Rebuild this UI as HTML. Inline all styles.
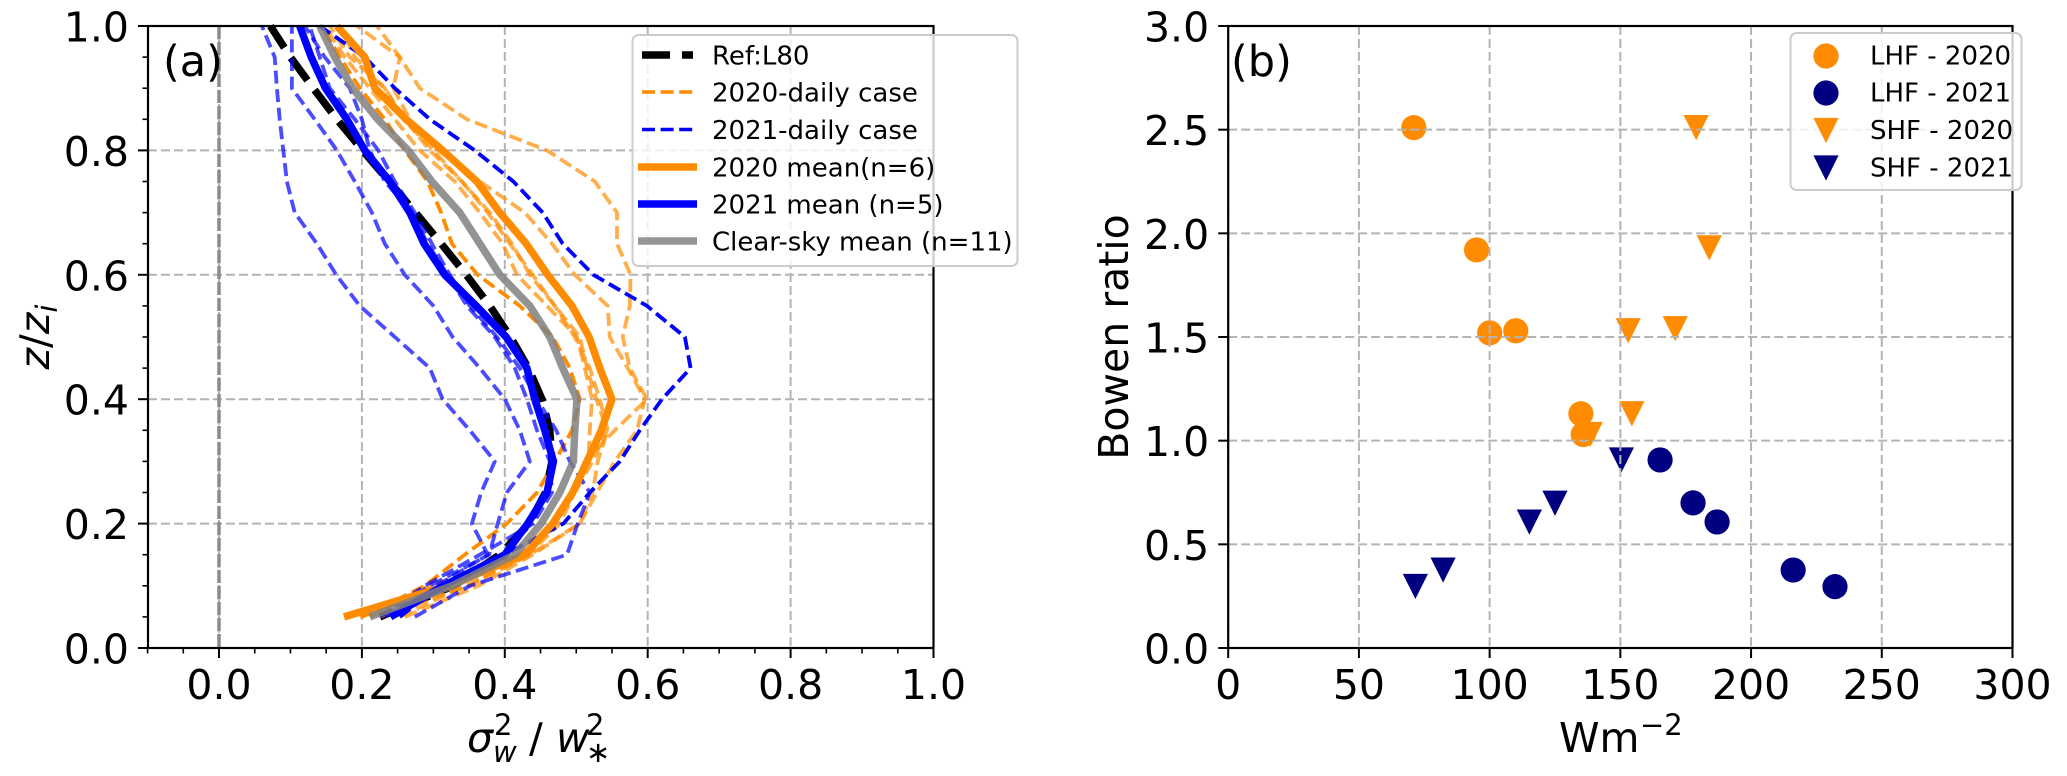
<!DOCTYPE html>
<html lang="en">
<head>
<meta charset="utf-8">
<title>Vertical velocity variance profiles and Bowen ratio</title>
<style>
html,body{margin:0;padding:0;background:#fff;}
svg{display:block;}
text{font-family:"DejaVu Sans","Liberation Sans",sans-serif;fill:#000;}
</style>
</head>
<body>
<svg id="fig" xmlns="http://www.w3.org/2000/svg" width="2067" height="776" viewBox="0 0 2067 776">
  <rect x="0" y="0" width="2067" height="776" fill="#fff"/>
  <g id="panelA"></g>
  <g id="panelB"></g>

  <text x="163" y="76" font-size="43">(a)</text>
  <text x="1231" y="76" font-size="43">(b)</text>

  <text transform="translate(49,337) rotate(-90)" text-anchor="middle" font-size="41"><tspan font-style="italic">z</tspan>/<tspan font-style="italic">z</tspan><tspan font-style="italic" font-size="29" dy="8">i</tspan></text>
  <text font-size="41"><tspan x="467" y="752" font-style="italic">σ</tspan><tspan x="494" y="735" font-size="29">2</tspan><tspan x="493" y="762" font-size="29" font-style="italic">w</tspan><tspan x="529" y="752">/</tspan><tspan x="556" y="752" font-style="italic">w</tspan><tspan x="586" y="735" font-size="29">2</tspan><tspan x="586" y="762" font-size="29">∗</tspan></text>

  <text transform="translate(1128,337) rotate(-90)" text-anchor="middle" font-size="41">Bowen ratio</text>
  <text font-size="41"><tspan x="1559" y="752">Wm</tspan><tspan x="1640" y="735" font-size="29">−2</tspan></text>

  <g id="legendA"></g>
  <g id="legendB"></g>
</svg>

<script>
// ---------- Panel (a) data ----------
const zLevels = [0.05,0.10,0.15,0.20,0.25,0.30,0.35,0.40,0.45,0.50,0.55,0.60,0.65,0.70,0.75,0.80,0.85,0.90,0.95,1.00];
const refL80 = [.225,.328,.393,.434,.457,.466,.463,.452,.433,.408,.379,.346,.311,.275,.238,.201,.165,.132,.100,.072];
const daily2020a = [.211,.295,.433,.477,.498,.512,.554,.599,.575,.565,.575,.576,.557,.557,.526,.459,.347,.281,.253,.221];
const daily2020b = [.197,.351,.435,.505,.529,.554,.585,.596,.572,.547,.544,.498,.466,.428,.365,.307,.267,.244,.253,.193];
const daily2020c = [.200,.288,.344,.403,.445,.470,.494,.505,.491,.467,.421,.362,.326,.311,.292,.260,.232,.197,.169,.144];
const daily2020d = [.225,.351,.421,.467,.498,.517,.519,.522,.512,.501,.459,.417,.397,.365,.330,.281,.246,.211,.176,.148];
const daily2020e = [.253,.344,.432,.467,.498,.523,.543,.528,.515,.505,.470,.435,.410,.379,.340,.295,.260,.232,.183,.155];
const daily2020f = [.260,.363,.439,.505,.523,.530,.544,.533,.519,.498,.470,.439,.407,.376,.340,.300,.258,.232,.190,.169];
const daily2021a = [.253,.309,.400,.482,.519,.561,.589,.620,.660,.652,.599,.524,.481,.453,.412,.358,.295,.246,.204,.141];
const daily2021b = [.240,.305,.376,.354,.367,.386,.351,.313,.295,.246,.197,.164,.137,.106,.095,.090,.085,.081,.078,.060];
const daily2021c = [.232,.295,.378,.390,.403,.435,.421,.400,.365,.327,.300,.260,.232,.214,.190,.165,.134,.102,.102,.102];
const daily2021d = [.225,.288,.365,.440,.466,.463,.445,.431,.414,.386,.347,.320,.292,.270,.232,.211,.200,.183,.148,.120];
const daily2021e = [.274,.351,.487,.502,.519,.491,.472,.445,.421,.389,.351,.323,.298,.274,.246,.223,.190,.155,.141,.127];
const mean2020 = [.175,.320,.428,.467,.495,.515,.535,.550,.533,.518,.494,.460,.430,.393,.361,.313,.262,.218,.204,.165];
const mean2021 = [.240,.314,.400,.432,.459,.468,.456,.442,.431,.402,.360,.316,.287,.267,.239,.204,.179,.149,.129,.113];
const meanClear = [.211,.326,.414,.451,.477,.496,.498,.501,.481,.463,.435,.393,.365,.337,.298,.265,.222,.187,.162,.141];
const aXTicks = [0.0,0.2,0.4,0.6,0.8,1.0];
const aXMinor = [-0.10,-0.05,0.05,0.10,0.15,0.25,0.30,0.35,0.45,0.50,0.55,0.65,0.70,0.75,0.85,0.90,0.95];
const aYTicks = [0.0,0.2,0.4,0.6,0.8,1.0];
const aYMinor = [0.05,0.10,0.15,0.25,0.30,0.35,0.45,0.50,0.55,0.65,0.70,0.75,0.85,0.90,0.95];
const legendALabels = ["Ref:L80","2020-daily case","2021-daily case","2020 mean(n=6)","2021 mean (n=5)","Clear-sky mean (n=11)"];

// ---------- Panel (b) data ----------
const lhf2020X = [71,95,100,110,134.9,135.8];
const lhf2020Y = [2.51,1.92,1.52,1.53,1.13,1.03];
const lhf2021X = [165.2,177.8,187,216.1,232.1];
const lhf2021Y = [0.907,0.70,0.608,0.376,0.296];
const shf2020X = [179,184,153,171,154.4,138.5];
const shf2020Y = [2.51,1.93,1.53,1.54,1.13,1.03];
const shf2021X = [71.6,82.2,115.2,125,150.4];
const shf2021Y = [0.297,0.376,0.607,0.698,0.907];
const bXTicks = [0,50,100,150,200,250,300];
const bYTicks = [0.0,0.5,1.0,1.5,2.0,2.5,3.0];
const legendBLabels = ["LHF - 2020","LHF - 2021","SHF - 2020","SHF - 2021"];

// ---------- Helpers ----------
const NS = "http://www.w3.org/2000/svg";
const ORANGE = "#ff8c00", BLUE = "#0000ff", NAVY = "#000080", GRID = "#b4b4b4";

function mk(parent, tag, name, attrs, txt) {
  const el = document.createElementNS(NS, tag);
  
  
  for (const k in attrs) el.setAttribute(k, attrs[k]);
  if (txt !== undefined) el.textContent = txt;
  parent.appendChild(el);
  return el;
}
function line(p, name, x1, y1, x2, y2, stroke, w, dash) {
  const a = {x1:x1, y1:y1, x2:x2, y2:y2, stroke:stroke, "stroke-width":w};
  if (dash) a["stroke-dasharray"] = dash;
  return mk(p, "line", name, a);
}

// Axis functions
const AL = 148, AR = 933.5, TOP = 26, BOT = 648;
const ax = v => 219 + 714.5 * v;
const ay = v => BOT - (BOT - TOP) * v;
const BL = 1228.2, BR = 2012.5;
const bx = v => BL + (BR - BL) * v / 300;
const by = v => BOT - (BOT - TOP) * v / 3;

// ---------- Panel (a) ----------
const pA = document.getElementById("panelA");
aXTicks.forEach(v => line(pA, "grid-x-" + v, ax(v), TOP, ax(v), BOT, GRID, 2, "9 4"));
aYTicks.forEach(v => line(pA, "grid-y-" + v, AL, ay(v), AR, ay(v), GRID, 2, "9 4"));
line(pA, "zero-reference-line", ax(0), TOP, ax(0), BOT, "#8c8c8c", 3.5, "13 3");

function profile(values, name, color, width, dash, opacity, offset) {
  const pts = values.map((v, i) => ax(v).toFixed(1) + "," + ay(zLevels[i]).toFixed(1)).join(" ");
  const a = {points:pts, fill:"none", stroke:color, "stroke-width":width, "stroke-linejoin":"round", "stroke-opacity":opacity};
  if (dash) a["stroke-dasharray"] = dash;
  if (offset) a["stroke-dashoffset"] = offset;
  return mk(pA, "polyline", name, a);
}
const DAILY_DASH = "13 5.6";
profile(refL80, "ref-l80-line", "#000", 7.5, "28 12", 1, 14);
profile(daily2020a, "daily-2020-line-1", ORANGE, 3.8, DAILY_DASH, .7);
profile(daily2020b, "daily-2020-line-2", ORANGE, 3.8, DAILY_DASH, .7);
profile(daily2020c, "daily-2020-line-3", ORANGE, 3.8, DAILY_DASH, 1);
profile(daily2020d, "daily-2020-line-4", ORANGE, 3.8, DAILY_DASH, .7);
profile(daily2020e, "daily-2020-line-5", ORANGE, 3.8, DAILY_DASH, .7);
profile(daily2020f, "daily-2020-line-6", ORANGE, 3.8, DAILY_DASH, .7);
profile(daily2021a, "daily-2021-line-1", BLUE, 3.8, DAILY_DASH, 1);
profile(daily2021b, "daily-2021-line-2", BLUE, 3.8, DAILY_DASH, .7);
profile(daily2021c, "daily-2021-line-3", BLUE, 3.8, DAILY_DASH, .7);
profile(daily2021d, "daily-2021-line-4", BLUE, 3.8, DAILY_DASH, .7);
profile(daily2021e, "daily-2021-line-5", BLUE, 3.8, DAILY_DASH, .7);
profile(mean2020, "mean-2020-line", ORANGE, 7.5, null, 1);
profile(mean2021, "mean-2021-line", BLUE, 7.5, null, 1);
profile(meanClear, "mean-clear-sky-line", "#808080", 7.5, null, .85);

mk(pA, "rect", "panel-a-frame", {x:AL, y:TOP, width:AR-AL, height:BOT-TOP, fill:"none", stroke:"#000", "stroke-width":2.2});
aXTicks.forEach(v => {
  line(pA, "x-tick-" + v, ax(v), BOT, ax(v), BOT + 10, "#000", 2);
  mk(pA, "text", "x-tick-label-" + v, {x:ax(v), y:699, "text-anchor":"middle", "font-size":41}, v.toFixed(1));
});
aXMinor.forEach(v => line(pA, "x-minor-tick-" + v, ax(v), BOT, ax(v), BOT + 5.5, "#000", 1.6));
aYTicks.forEach(v => {
  line(pA, "y-tick-" + v, AL - 10, ay(v), AL, ay(v), "#000", 2);
  mk(pA, "text", "y-tick-label-" + v, {x:AL - 19, y:ay(v) + 15.5, "text-anchor":"end", "font-size":41}, v.toFixed(1));
});
aYMinor.forEach(v => line(pA, "y-minor-tick-" + v, AL - 5.5, ay(v), AL, ay(v), "#000", 1.6));

// Legend (a)
const lA = document.getElementById("legendA");
mk(lA, "rect", "legend-a-box", {x:632.5, y:35, width:385, height:231, rx:6, fill:"#fff", "fill-opacity":.8, stroke:"#cccccc", "stroke-width":2});
const legendAY = [55, 92, 129.5, 167, 204, 241];
line(lA, "legend-ref-key", 642, legendAY[0], 693, legendAY[0], "#000", 7.5, "28 12");
line(lA, "legend-2020-daily-key", 642, legendAY[1], 693, legendAY[1], ORANGE, 3.6, DAILY_DASH);
line(lA, "legend-2021-daily-key", 642, legendAY[2], 693, legendAY[2], BLUE, 3.6, DAILY_DASH);
line(lA, "legend-2020-mean-key", 638, legendAY[3], 697, legendAY[3], ORANGE, 7.5);
line(lA, "legend-2021-mean-key", 638, legendAY[4], 697, legendAY[4], BLUE, 7.5);
line(lA, "legend-clear-sky-key", 638, legendAY[5], 697, legendAY[5], "#969696", 7.5);
legendALabels.forEach((t, i) => mk(lA, "text", "legend-a-entry-" + i, {x:712, y:legendAY[i] + 9.5, "font-size":26}, t));

// ---------- Panel (b) ----------
const pB = document.getElementById("panelB");
function circle(p, name, cx, cy, color) {
  return mk(p, "circle", name, {cx:cx, cy:cy, r:12.6, fill:color});
}
function tri(p, name, cx, cy, color) {
  const pts = (cx - 12.6) + "," + (cy - 12.6) + " " + (cx + 12.6) + "," + (cy - 12.6) + " " + cx + "," + (cy + 12.6);
  return mk(p, "polygon", name, {points:pts, fill:color});
}
lhf2020X.forEach((v, i) => circle(pB, "lhf-2020-point-" + i, bx(v), by(lhf2020Y[i]), ORANGE));
lhf2021X.forEach((v, i) => circle(pB, "lhf-2021-point-" + i, bx(v), by(lhf2021Y[i]), NAVY));
shf2020X.forEach((v, i) => tri(pB, "shf-2020-point-" + i, bx(v), by(shf2020Y[i]), ORANGE));
shf2021X.forEach((v, i) => tri(pB, "shf-2021-point-" + i, bx(v), by(shf2021Y[i]), NAVY));

bXTicks.forEach(v => line(pB, "b-grid-x-" + v, bx(v), TOP, bx(v), BOT, GRID, 2, "9 4"));
bYTicks.forEach(v => line(pB, "b-grid-y-" + v, BL, by(v), BR, by(v), GRID, 2, "9 4"));

mk(pB, "rect", "panel-b-frame", {x:BL, y:TOP, width:BR-BL, height:BOT-TOP, fill:"none", stroke:"#000", "stroke-width":2.2});
bXTicks.forEach(v => {
  line(pB, "b-x-tick-" + v, bx(v), BOT, bx(v), BOT + 10, "#000", 2);
  mk(pB, "text", "b-x-tick-label-" + v, {x:bx(v), y:699, "text-anchor":"middle", "font-size":41}, String(v));
});
bYTicks.forEach(v => {
  line(pB, "b-y-tick-" + v, BL - 10, by(v), BL, by(v), "#000", 2);
  mk(pB, "text", "b-y-tick-label-" + v, {x:BL - 19, y:by(v) + 15.5, "text-anchor":"end", "font-size":41}, v.toFixed(1));
});

// Legend (b)
const lB = document.getElementById("legendB");
mk(lB, "rect", "legend-b-box", {x:1790.5, y:33, width:231, height:157, rx:6, fill:"#fff", "fill-opacity":.8, stroke:"#cccccc", "stroke-width":2});
const legendBY = [56, 93, 130.5, 168];
circle(lB, "legend-lhf-2020-key", 1826, legendBY[0], ORANGE);
circle(lB, "legend-lhf-2021-key", 1826, legendBY[1], NAVY);
tri(lB, "legend-shf-2020-key", 1826, legendBY[2], ORANGE);
tri(lB, "legend-shf-2021-key", 1826, legendBY[3], NAVY);
legendBLabels.forEach((t, i) => mk(lB, "text", "legend-b-entry-" + i, {x:1870, y:legendBY[i] + 8.5, "font-size":26}, t));
</script>
</body>
</html>
